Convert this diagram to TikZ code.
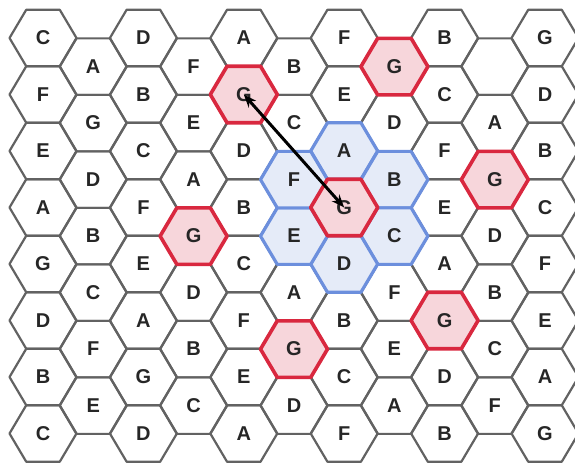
\documentclass[tikz,border=0pt]{standalone}
\usepackage{fontspec}
\setmainfont{Liberation Sans}
\usetikzlibrary{arrows.meta}

\definecolor{hexgray}{HTML}{626262}
\definecolor{letterink}{HTML}{262626}
\definecolor{nearblue}{HTML}{6C8FDD}
\definecolor{nearfill}{HTML}{E5EBF8}
\definecolor{goalred}{HTML}{D9283F}
\definecolor{goalfill}{HTML}{F7D6DB}

% one flat-topped cell around a coordinate
\newcommand{\hexat}[2]{\draw[#1] (#2) +(33.5,0) -- +(16.75,28.25) -- +(-16.75,28.25)
  -- +(-33.5,0) -- +(-16.75,-28.25) -- +(16.75,-28.25) -- cycle;}

\begin{document}
\begin{tikzpicture}[x=1pt, y=-1pt,
    every node/.style={font=\fontsize{20}{24}\selectfont\bfseries, text=letterink, inner sep=0pt},
    cellbox/.style={draw=hexgray, line width=2.2pt, line join=round},
    nearbox/.style={draw=nearblue, fill=nearfill, line width=3.2pt, line join=round},
    goalbox/.style={draw=goalred, fill=goalfill, line width=3.6pt, line join=round},
    link/.style={<->, >={Stealth[length=13pt, width=10pt]}, line width=3pt, black},
]
\useasboundingbox (0,0) rectangle (575,467);

% grid positions and plain cells
\foreach \col [count=\c from 0] in {
    {C,F,E,A,G,D,B,C}, {A,G,D,B,C,F,E}, {D,B,C,F,E,A,G,D}, {F,E,A,G,D,B,C},
    {A,G,D,B,C,F,E,A}, {B,C,F,E,A,G,D}, {F,E,A,G,D,B,C,F}, {G,D,B,C,F,E,A},
    {B,C,F,E,A,G,D,B}, {{},A,G,D,B,C,F}, {G,D,B,C,F,E,A,G}}
  {\foreach \lab [count=\r from 0] in \col {
    \pgfmathsetmacro{\xx}{43+50.2*\c}
    \pgfmathsetmacro{\yy}{38+56.5*\r+28.6*mod(\c,2)}
    \coordinate (p-\c-\r) at (\xx,\yy);
    \hexat{cellbox}{p-\c-\r}
  }}

% neighbourhood of the centre cell
\foreach \c/\r in {6/2, 7/2, 7/3, 6/4, 5/3, 5/2}
  {\hexat{nearbox}{p-\c-\r}}

% G cells
\foreach \c/\r in {4/1, 7/0, 9/2, 3/3, 6/3, 8/5, 5/5}
  {\hexat{goalbox}{p-\c-\r}}

% letters
\foreach \col [count=\c from 0] in {
    {C,F,E,A,G,D,B,C}, {A,G,D,B,C,F,E}, {D,B,C,F,E,A,G,D}, {F,E,A,G,D,B,C},
    {A,G,D,B,C,F,E,A}, {B,C,F,E,A,G,D}, {F,E,A,G,D,B,C,F}, {G,D,B,C,F,E,A},
    {B,C,F,E,A,G,D,B}, {{},A,G,D,B,C,F}, {G,D,B,C,F,E,A,G}}
  {\foreach \lab [count=\r from 0] in \col
    {\node (h-\c-\r) at (p-\c-\r) {\lab};}}

\draw[link] (h-4-1.center) -- (h-6-3.center);
\end{tikzpicture}
\end{document}
